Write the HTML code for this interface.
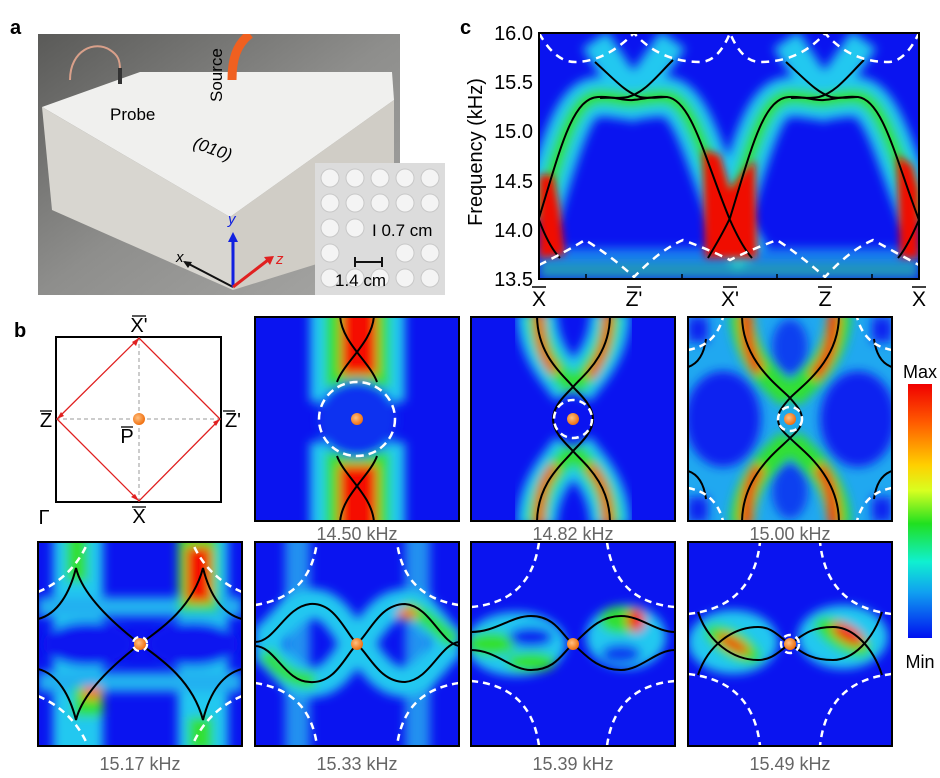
<!DOCTYPE html>
<html><head><meta charset="utf-8"><style>
html,body{margin:0;padding:0;background:#fff;}
svg{display:block;font-family:"Liberation Sans",Arial,sans-serif;}
</style></head><body>
<svg width="940" height="778" viewBox="0 0 940 778" xmlns="http://www.w3.org/2000/svg">
<defs>
<filter id="b" x="-30%" y="-30%" width="160%" height="160%"><feGaussianBlur stdDeviation="5"/></filter>
<filter id="b2" x="-30%" y="-30%" width="160%" height="160%"><feGaussianBlur stdDeviation="4"/></filter>
<clipPath id="cp"><rect x="0" y="0" width="204" height="204"/></clipPath>
<clipPath id="cc"><rect x="539" y="33" width="380" height="246"/></clipPath>
<clipPath id="ph"><rect x="38" y="34" width="362" height="261"/></clipPath>
<radialGradient id="dot" cx="40%" cy="40%" r="60%"><stop offset="0" stop-color="#ffc080"/><stop offset="1" stop-color="#f07010"/></radialGradient>
<linearGradient id="jet" x1="0" y1="0" x2="0" y2="1">
<stop offset="0" stop-color="#f00000"/><stop offset="0.15" stop-color="#ff5a00"/><stop offset="0.32" stop-color="#ffd000"/><stop offset="0.42" stop-color="#d8ff20"/><stop offset="0.55" stop-color="#20e020"/><stop offset="0.7" stop-color="#10f0d0"/><stop offset="0.82" stop-color="#10a0f0"/><stop offset="1" stop-color="#0010f0"/></linearGradient>
<linearGradient id="floor" x1="0" y1="0" x2="1" y2="1"><stop offset="0" stop-color="#5a5a58"/><stop offset="0.5" stop-color="#8e8e8c"/><stop offset="1" stop-color="#a8a8a6"/></linearGradient>
</defs>

<text x="10" y="34" font-size="20" font-weight="bold">a</text>
<g clip-path="url(#ph)">
<rect x="38" y="34" width="362" height="261" fill="url(#floor)"/>
<polygon points="42,107 140,72 392,72 394,100 230,217" fill="#f0f0ee"/>
<polygon points="42,107 230,217 233,290 52,210" fill="#d8d6d0"/>
<polygon points="230,217 394,100 394,240 233,290" fill="#d0cdc6"/>
<path d="M70,80 C70,50 95,40 110,50 C118,55 120,60 120,70" stroke="#d9a08a" stroke-width="2" fill="none"/>
<rect x="118" y="68" width="4" height="16" fill="#333"/>
<path d="M232,80 C232,60 236,45 250,34" stroke="#f06020" stroke-width="9" fill="none"/>
<line x1="233" y1="287" x2="185" y2="262" stroke="#111" stroke-width="2"/>
<polygon points="183,261 192,262 188,268" fill="#111"/>
<line x1="233" y1="287" x2="233" y2="238" stroke="#1020e0" stroke-width="3"/>
<polygon points="228,242 238,242 233,232" fill="#1020e0"/>
<line x1="233" y1="287" x2="268" y2="260" stroke="#e02020" stroke-width="3"/>
<polygon points="264,257 274,256 270,265" fill="#e02020"/>
</g>
<text x="110" y="120" font-size="17">Probe</text>
<text x="222" y="102" font-size="17" transform="rotate(-90 222 102)">Source</text>
<text x="192" y="152" font-size="17" font-style="italic" transform="rotate(20 205 150)">(010)</text>
<text x="176" y="262" font-size="15" font-style="italic">x</text>
<text x="228" y="224" font-size="15" font-style="italic" fill="#1020e0">y</text>
<text x="276" y="264" font-size="15" font-style="italic" fill="#e02020">z</text>
<rect x="315" y="163" width="130" height="132" fill="#dcdcdc"/>
<g fill="#f4f4f4" stroke="#c8c8c8" stroke-width="1">
<circle cx="330" cy="178" r="9"/><circle cx="355" cy="178" r="9"/><circle cx="380" cy="178" r="9"/><circle cx="405" cy="178" r="9"/><circle cx="430" cy="178" r="9"/>
<circle cx="330" cy="203" r="9"/><circle cx="355" cy="203" r="9"/><circle cx="380" cy="203" r="9"/><circle cx="405" cy="203" r="9"/><circle cx="430" cy="203" r="9"/>
<circle cx="330" cy="228" r="9"/><circle cx="355" cy="228" r="9"/>
<circle cx="330" cy="253" r="9"/><circle cx="405" cy="253" r="9"/><circle cx="430" cy="253" r="9"/>
<circle cx="330" cy="278" r="9"/><circle cx="355" cy="278" r="9"/><circle cx="380" cy="278" r="9"/><circle cx="405" cy="278" r="9"/><circle cx="430" cy="278" r="9"/>
</g>
<text x="372" y="236" font-size="17">I 0.7 cm</text>
<line x1="355" y1="262" x2="382" y2="262" stroke="#111" stroke-width="2"/>
<line x1="355" y1="257" x2="355" y2="267" stroke="#111" stroke-width="2"/><line x1="382" y1="257" x2="382" y2="267" stroke="#111" stroke-width="2"/>
<text x="335" y="286" font-size="17">1.4 cm</text>

<text x="460" y="34" font-size="20" font-weight="bold">c</text>
<g clip-path="url(#cc)">
<rect x="539" y="33" width="380" height="246" fill="#0a14f0"/>
<g filter="url(#b)" fill="none">
<rect x="539" y="248" width="380" height="31" fill="#1aa8f0" opacity="0.7"/>
<path d="M539,218 C560,150 572,98 598,97 C615,96 622,101 633,100 C645,99 652,96 667,97 C692,100 705,160 730,220 C738,238 745,250 752,258" stroke="#20c8f0" stroke-width="40"/>
<path d="M730,218 C751,150 763,98 789,97 C806,96 813,101 824,100 C836,99 843,96 858,97 C883,100 896,160 921,220" stroke="#20c8f0" stroke-width="40"/>
<path d="M595,40 L633,97 L673,40" stroke="#20c8f0" stroke-width="30"/>
<path d="M786,40 L824,97 L864,40" stroke="#20c8f0" stroke-width="30"/>
<path d="M539,218 C560,150 572,98 598,97 C615,96 622,101 633,100 C645,99 652,96 667,97 C692,100 705,160 730,220" stroke="#30e030" stroke-width="16"/>
<path d="M730,218 C751,150 763,98 789,97 C806,96 813,101 824,100 C836,99 843,96 858,97 C883,100 896,160 921,220" stroke="#30e030" stroke-width="16"/>
<rect x="539" y="262" width="380" height="17" fill="#40d040" opacity="0.3"/>
</g>
<g filter="url(#b2)">
<path d="M539,175 L553,175 L560,210 L565,255 L539,258 Z" fill="#f01000"/>
<path d="M703,150 L720,155 L730,190 L745,170 L755,160 L757,258 L705,258 Z" fill="#f01000"/>
<path d="M897,155 L912,165 L919,190 L919,258 L900,258 Z" fill="#f01000"/>
</g>
<g fill="none" stroke="#000" stroke-width="2">
<path d="M539,218 C560,150 572,98 598,97 C615,96 622,101 633,100 C645,99 652,96 667,97 C692,100 705,160 730,220 C738,238 745,250 752,258"/>
<path d="M708,258 C715,246 722,235 730,218 C751,150 763,98 789,97 C806,96 813,101 824,100 C836,99 843,96 858,97 C883,100 896,160 919,220"/>
<path d="M539,220 C545,236 552,250 560,258"/>
<path d="M919,220 C912,236 905,250 898,258"/>
<path d="M595,62 C615,80 625,92 640,97 C650,99 660,97 667,97"/>
<path d="M673,60 C655,78 645,92 628,97 C618,99 608,97 600,98"/>
<path d="M786,62 C806,80 816,92 831,97 C841,99 851,97 858,97"/>
<path d="M864,60 C846,78 836,92 819,97 C809,99 799,97 791,98"/>
</g>
<g fill="none" stroke="#fff" stroke-width="2.5" stroke-dasharray="8,6">
<path d="M539,33 Q555,62 575,62 Q605,62 634,33 Q660,62 700,62 Q718,62 730,33 Q742,62 760,62 Q800,62 825,33 Q850,62 888,62 Q905,62 919,33"/>
<path d="M539,265 Q560,255 585,240 Q610,255 634,277 Q660,250 683,240 Q710,250 730,260 Q750,250 777,240 Q800,255 825,277 Q850,250 873,240 Q900,255 919,265"/>
</g>
</g>
<rect x="539" y="33" width="380" height="246" fill="none" stroke="#000" stroke-width="2"/>
<g stroke="#000" stroke-width="1.5">
<line x1="586" y1="279" x2="586" y2="274"/><line x1="682" y1="279" x2="682" y2="274"/><line x1="777" y1="279" x2="777" y2="274"/><line x1="872" y1="279" x2="872" y2="274"/>
</g>
<g font-size="20" text-anchor="end">
<text x="533" y="40">16.0</text><text x="533" y="89">15.5</text><text x="533" y="138">15.0</text><text x="533" y="188">14.5</text><text x="533" y="237">14.0</text><text x="533" y="286">13.5</text>
</g>
<text x="0" y="0" font-size="20" text-anchor="middle" transform="translate(482 152) rotate(-90)">Frequency (kHz)</text>
<g font-size="21" text-anchor="middle">
<text x="539" y="306">X</text><text x="634" y="306">Z'</text><text x="730" y="306">X'</text><text x="825" y="306">Z</text><text x="919" y="306">X</text>
</g>
<g stroke="#000" stroke-width="1.5">
<line x1="532" y1="287" x2="546" y2="287"/><line x1="627" y1="287" x2="641" y2="287"/><line x1="723" y1="287" x2="737" y2="287"/><line x1="818" y1="287" x2="832" y2="287"/><line x1="912" y1="287" x2="926" y2="287"/>
</g>

<text x="14" y="337" font-size="20" font-weight="bold">b</text>
<rect x="56" y="337" width="165" height="165" fill="none" stroke="#000" stroke-width="2"/>
<g stroke="#999" stroke-width="1" stroke-dasharray="4,3"><line x1="139" y1="337" x2="139" y2="502"/><line x1="56" y1="419" x2="221" y2="419"/></g>
<polygon points="139,338 57,419 139,501 220,419" fill="none" stroke="#e02020" stroke-width="1.3"/>
<g fill="#e02020"><polygon points="139,338 132,342 136,346"/><polygon points="57,419 61,412 64,416"/><polygon points="139,501 131,497 135,494"/><polygon points="220,419 216,426 213,422"/></g>
<circle cx="139" cy="419" r="6" fill="url(#dot)"/>
<g font-size="20" text-anchor="middle">
<text x="139" y="332">X'</text><text x="46" y="427">Z</text><text x="233" y="427">Z'</text><text x="127" y="443">P</text><text x="139" y="523">X</text><text x="44" y="524">Γ</text>
</g>
<g stroke="#000" stroke-width="1.3"><line x1="132" y1="316" x2="146" y2="316"/><line x1="40" y1="411" x2="52" y2="411"/><line x1="223" y1="411" x2="235" y2="411"/><line x1="121" y1="427" x2="133" y2="427"/><line x1="132" y1="507" x2="146" y2="507"/></g>

<g transform="translate(255 317)"><g clip-path="url(#cp)">
<rect width="204" height="204" fill="#0a14f0"/>
<g filter="url(#b)">
<rect x="55" y="-10" width="95" height="95" fill="#20c8f0"/><rect x="55" y="125" width="95" height="95" fill="#20c8f0"/>
<rect x="70" y="-10" width="65" height="80" fill="#30e030"/><rect x="70" y="135" width="65" height="80" fill="#30e030"/>
<rect x="86" y="-10" width="36" height="68" fill="#f51000"/><rect x="84" y="148" width="38" height="70" fill="#f51000"/>
<ellipse cx="102" cy="102" rx="40" ry="38" fill="#1030f0"/>
</g>
<g fill="none" stroke="#000" stroke-width="2">
<path d="M85,-2 C86,25 115,45 122,65"/><path d="M119,-2 C118,25 89,45 82,65"/>
<path d="M85,206 C86,179 115,159 122,139"/><path d="M119,206 C118,179 89,159 82,139"/>
</g>
<ellipse cx="102" cy="102" rx="38" ry="37" fill="none" stroke="#fff" stroke-width="2.5" stroke-dasharray="8,5"/>
<circle cx="102" cy="102" r="6" fill="url(#dot)"/>
</g><rect width="204" height="204" fill="none" stroke="#000" stroke-width="2"/></g>
<text x="357" y="540" font-size="18" fill="#666" text-anchor="middle">14.50 kHz</text>

<g transform="translate(471 317)"><g clip-path="url(#cp)">
<rect width="204" height="204" fill="#0a14f0"/>
<g filter="url(#b)" fill="none">
<path d="M66,-5 C66,40 95,60 102,75 M139,-5 C139,40 110,60 102,75 M66,209 C66,164 95,144 102,129 M139,209 C139,164 110,144 102,129" stroke="#20c8f0" stroke-width="40"/>
<path d="M66,-5 C66,40 95,60 102,72 M139,-5 C139,40 110,60 102,72 M66,209 C66,164 95,144 102,132 M139,209 C139,164 110,144 102,132" stroke="#30e030" stroke-width="20"/>
<path d="M68,-5 C68,30 75,45 85,55 M137,-5 C137,30 128,45 118,60 M68,209 C68,174 75,159 85,149 M137,209 C137,174 128,159 118,149" stroke="#f51000" stroke-width="9"/>
</g>
<g fill="none" stroke="#000" stroke-width="2">
<path d="M66,-2 C66,40 95,60 102,70 C112,80 122,90 122,102 C122,114 112,124 102,134 C95,144 66,164 66,206"/>
<path d="M139,-2 C139,40 110,60 102,70 C92,80 82,90 82,102 C82,114 92,124 102,134 C110,144 139,164 139,206"/>
</g>
<circle cx="102" cy="102" r="19" fill="none" stroke="#fff" stroke-width="2.5" stroke-dasharray="7,5"/>
<circle cx="102" cy="102" r="6" fill="url(#dot)"/>
</g><rect width="204" height="204" fill="none" stroke="#000" stroke-width="2"/></g>
<text x="573" y="540" font-size="18" fill="#666" text-anchor="middle">14.82 kHz</text>

<g transform="translate(688 317)"><g clip-path="url(#cp)">
<rect width="204" height="204" fill="#20a8f0"/>
<g filter="url(#b)">
<ellipse cx="35" cy="102" rx="38" ry="48" fill="#0a20f0"/><ellipse cx="170" cy="102" rx="38" ry="48" fill="#0a20f0"/>
<ellipse cx="102" cy="30" rx="18" ry="28" fill="#1040f0"/><ellipse cx="102" cy="174" rx="18" ry="28" fill="#1040f0"/>
<rect x="0" y="0" width="20" height="25" fill="#0a20f0"/><rect x="184" y="0" width="20" height="25" fill="#0a20f0"/><rect x="0" y="180" width="20" height="25" fill="#0a20f0"/><rect x="184" y="180" width="20" height="25" fill="#0a20f0"/>
</g>
<g filter="url(#b)" fill="none">
<path d="M54,-5 C54,45 92,70 102,81 M151,-5 C151,45 112,70 102,81 M54,209 C54,159 92,134 102,123 M151,209 C151,159 112,134 102,123" stroke="#30e030" stroke-width="24"/>
<path d="M58,-5 C58,25 62,40 72,55 M146,-5 C146,25 140,45 125,60 M58,209 C58,180 62,165 72,150 M146,209 C146,180 140,160 130,150" stroke="#f51000" stroke-width="12"/>
</g>
<g fill="none" stroke="#000" stroke-width="2">
<path d="M54,-2 C54,45 92,70 102,81 C110,90 114,95 114,102 C114,109 110,114 102,121 C92,132 54,157 54,206"/>
<path d="M151,-2 C151,45 112,70 102,81 C94,90 90,95 90,102 C90,109 94,114 102,121 C112,132 151,157 151,206"/>
<path d="M0,50 Q15,45 18,22"/><path d="M204,50 Q189,45 186,22"/><path d="M0,154 Q15,159 18,182"/><path d="M204,154 Q189,159 186,182"/>
</g>
<g fill="none" stroke="#fff" stroke-width="2.5" stroke-dasharray="7,5">
<path d="M0,33 Q28,28 35,0"/><path d="M204,33 Q176,28 169,0"/><path d="M0,171 Q28,176 35,204"/><path d="M204,171 Q176,176 169,204"/>
<circle cx="102" cy="102" r="12"/>
</g>
<circle cx="102" cy="102" r="6" fill="url(#dot)"/>
</g><rect width="204" height="204" fill="none" stroke="#000" stroke-width="2"/></g>
<text x="790" y="540" font-size="18" fill="#666" text-anchor="middle">15.00 kHz</text>

<text x="920" y="378" font-size="18" text-anchor="middle">Max</text>
<rect x="908" y="384" width="24" height="254" fill="url(#jet)"/>
<text x="920" y="668" font-size="18" text-anchor="middle">Min</text>

<g transform="translate(38 542)"><g clip-path="url(#cp)">
<rect width="204" height="204" fill="#0a14f0"/>
<g filter="url(#b)">
<rect x="15" y="-10" width="50" height="225" fill="#20c8f0"/><rect x="140" y="-10" width="50" height="225" fill="#20c8f0"/>
<rect x="0" y="55" width="204" height="20" fill="#20b0f0"/><rect x="0" y="130" width="204" height="20" fill="#20b0f0"/>
<rect x="28" y="-10" width="22" height="50" fill="#30e030"/><rect x="140" y="-10" width="40" height="80" fill="#30e030"/>
<rect x="35" y="145" width="30" height="30" fill="#30e030"/><rect x="150" y="175" width="25" height="35" fill="#30e030"/>
<rect x="148" y="5" width="25" height="55" fill="#f51000"/><rect x="45" y="145" width="18" height="12" fill="#f57000"/>
<ellipse cx="50" cy="102" rx="45" ry="22" fill="#0a14f0"/><ellipse cx="155" cy="102" rx="45" ry="22" fill="#0a14f0"/>
</g>
<g fill="none" stroke="#000" stroke-width="2">
<path d="M0,77 C20,72 32,50 38,26 C45,55 80,85 102,102 C125,118 155,140 165,178 C172,150 185,132 204,127"/>
<path d="M0,127 C20,132 32,154 38,178 C45,149 80,119 102,102 C125,86 155,64 165,26 C172,54 185,72 204,77"/>
</g>
<g fill="none" stroke="#fff" stroke-width="2.5" stroke-dasharray="7,5">
<path d="M0,50 Q35,35 50,0"/><path d="M204,50 Q169,35 154,0"/><path d="M0,154 Q35,169 50,204"/><path d="M204,154 Q169,169 154,204"/>
<circle cx="102" cy="102" r="7"/>
</g>
<circle cx="102" cy="102" r="6" fill="url(#dot)"/>
</g><rect width="204" height="204" fill="none" stroke="#000" stroke-width="2"/></g>
<text x="140" y="770" font-size="18" fill="#666" text-anchor="middle">15.17 kHz</text>

<g transform="translate(255 542)"><g clip-path="url(#cp)">
<rect width="204" height="204" fill="#0a14f0"/>
<g filter="url(#b)">
<rect x="30" y="-10" width="25" height="225" fill="#2090f0"/><rect x="150" y="-10" width="25" height="225" fill="#2090f0"/>
</g>
<g filter="url(#b)" fill="none">
<path d="M0,100 C20,100 30,65 55,62 C80,60 90,90 102,102 C115,114 125,140 150,140 C175,138 185,102 204,100 M0,104 C20,104 30,140 55,140 C80,142 90,114 102,102 C115,90 125,62 150,62 C175,64 185,100 204,104" stroke="#20c8f0" stroke-width="30"/>
<path d="M10,110 C25,130 40,140 60,138 M150,66 C170,70 185,90 200,100" stroke="#30e030" stroke-width="16"/>
<ellipse cx="152" cy="72" rx="10" ry="6" fill="#f57000"/>
</g>
<g fill="none" stroke="#000" stroke-width="2">
<path d="M0,100 C20,100 30,65 55,62 C80,60 90,90 102,102 C115,114 125,140 150,140 C175,138 185,102 204,100"/>
<path d="M0,104 C20,104 30,140 55,140 C80,142 90,114 102,102 C115,90 125,62 150,62 C175,64 185,100 204,104"/>
</g>
<g fill="none" stroke="#fff" stroke-width="2.5" stroke-dasharray="7,5">
<path d="M0,63 Q55,55 62,0"/><path d="M204,63 Q149,55 142,0"/><path d="M0,141 Q55,149 62,204"/><path d="M204,141 Q149,149 142,204"/>
</g>
<circle cx="102" cy="102" r="6" fill="url(#dot)"/>
</g><rect width="204" height="204" fill="none" stroke="#000" stroke-width="2"/></g>
<text x="357" y="770" font-size="18" fill="#666" text-anchor="middle">15.33 kHz</text>

<g transform="translate(471 542)"><g clip-path="url(#cp)">
<rect width="204" height="204" fill="#0a14f0"/>
<g filter="url(#b)">
<ellipse cx="45" cy="102" rx="50" ry="32" fill="#20c8f0"/><ellipse cx="155" cy="95" rx="40" ry="32" fill="#20c8f0"/>
<ellipse cx="20" cy="102" rx="25" ry="12" fill="#30e030"/><ellipse cx="60" cy="120" rx="25" ry="10" fill="#30e030"/>
<ellipse cx="150" cy="78" rx="22" ry="14" fill="#30e030"/><ellipse cx="165" cy="78" rx="9" ry="12" fill="#f51000"/>
<ellipse cx="60" cy="95" rx="22" ry="10" fill="#0a20f0"/><ellipse cx="150" cy="112" rx="20" ry="10" fill="#1040f0"/>
</g>
<g fill="none" stroke="#000" stroke-width="2">
<path d="M0,90 C25,90 40,74 60,74 C85,74 92,95 102,102 C112,110 125,128 150,128 C170,128 185,108 204,108"/>
<path d="M0,108 C25,108 40,128 60,128 C85,128 92,110 102,102 C112,95 125,74 150,74 C170,74 185,90 204,90"/>
</g>
<g fill="none" stroke="#fff" stroke-width="2.5" stroke-dasharray="7,5">
<path d="M0,65 Q60,60 68,0"/><path d="M204,65 Q144,60 136,0"/><path d="M0,139 Q60,144 68,204"/><path d="M204,139 Q144,144 136,204"/>
</g>
<circle cx="102" cy="102" r="6" fill="url(#dot)"/>
</g><rect width="204" height="204" fill="none" stroke="#000" stroke-width="2"/></g>
<text x="573" y="770" font-size="18" fill="#666" text-anchor="middle">15.39 kHz</text>

<g transform="translate(688 542)"><g clip-path="url(#cp)">
<rect width="204" height="204" fill="#0a14f0"/>
<g filter="url(#b)">
<ellipse cx="45" cy="100" rx="45" ry="32" fill="#20c8f0"/><ellipse cx="155" cy="95" rx="45" ry="32" fill="#20c8f0"/>
<ellipse cx="45" cy="102" rx="32" ry="14" fill="#30e030" transform="rotate(30 45 102)"/><ellipse cx="155" cy="95" rx="32" ry="14" fill="#30e030" transform="rotate(30 155 95)"/>
<ellipse cx="45" cy="102" rx="18" ry="6" fill="#f53000" transform="rotate(30 45 102)"/><ellipse cx="160" cy="92" rx="18" ry="8" fill="#f51000" transform="rotate(30 160 92)"/>
</g>
<g fill="none" stroke="#000" stroke-width="2">
<path d="M10,70 C20,100 45,118 70,118 C85,118 92,108 102,102 C112,96 120,85 145,85 C165,85 185,105 194,133"/>
<path d="M10,133 C20,103 45,85 70,85 C85,85 92,96 102,102 C112,108 120,118 145,118 C165,118 185,98 194,70"/>
</g>
<g fill="none" stroke="#fff" stroke-width="2.5" stroke-dasharray="7,5">
<path d="M0,72 Q65,65 72,0"/><path d="M204,72 Q139,65 132,0"/><path d="M0,132 Q65,139 72,204"/><path d="M204,132 Q139,139 132,204"/>
<circle cx="102" cy="102" r="9"/>
</g>
<circle cx="102" cy="102" r="6" fill="url(#dot)"/>
</g><rect width="204" height="204" fill="none" stroke="#000" stroke-width="2"/></g>
<text x="790" y="770" font-size="18" fill="#666" text-anchor="middle">15.49 kHz</text>
</svg>
</body></html>
